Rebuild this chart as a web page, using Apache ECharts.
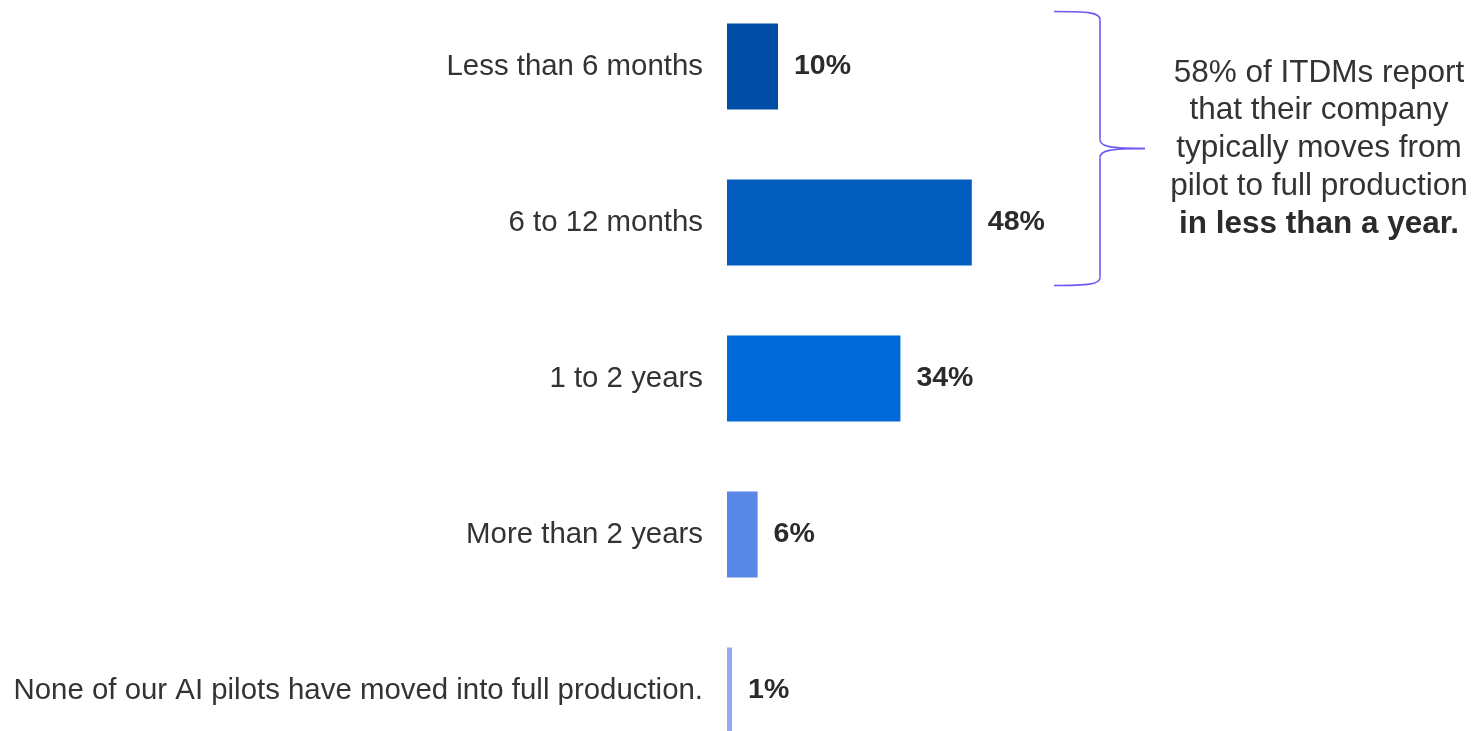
<!DOCTYPE html>
<html>
<head>
<meta charset="utf-8">
<title>Pilot to full production</title>
<script src="https://cdn.jsdelivr.net/npm/echarts@6/dist/echarts.min.js"></script>
<style>
  html, body { margin: 0; padding: 0; background: #ffffff; }
  #chart { width: 1476px; height: 731px; }
</style>
</head>
<body>
<div id="chart"></div>
<script>
// Time from AI pilot to full production (share of ITDMs)
const categories = [
  'Less than 6 months',
  '6 to 12 months',
  '1 to 2 years',
  'More than 2 years',
  'None of our AI pilots have moved into full production.'
];
const values = [10, 48, 34, 6, 1];
const barColors = ['#014EA7', '#025DBF', '#006AD8', '#5987E5', '#95ACEF'];
const calloutLines = [
  '58% of ITDMs report',
  'that their company',
  'typically moves from',
  'pilot to full production'
];
const calloutBold = 'in less than a year.';

const FONT = '"Liberation Sans", Arial, sans-serif';
const chart = echarts.init(document.getElementById('chart'), null, { renderer: 'canvas' });

chart.setOption({
  backgroundColor: '#ffffff',
  animation: false,
  grid: {
    left: 727, right: 239, top: -11.5, bottom: -37.5,
    containLabel: false,
    outerBoundsMode: 'none'
  },
  xAxis: {
    type: 'value', min: 0, max: 100, show: false
  },
  yAxis: {
    type: 'category',
    data: categories,
    inverse: true,
    axisLine: { show: false },
    axisTick: { show: false },
    splitLine: { show: false },
    axisLabel: {
      margin: 24,
      color: '#333333',
      fontFamily: FONT,
      fontSize: 29.4
    }
  },
  series: [{
    type: 'bar',
    barWidth: 86,
    data: values.map((v, i) => ({ value: v, itemStyle: { color: barColors[i] } })),
    label: {
      show: true,
      position: 'right',
      distance: 16,
      formatter: '{c}%',
      color: '#2b2b2b',
      fontFamily: FONT,
      fontWeight: 'bold',
      fontSize: 28.5
    }
  }]
});

// Brace spanning the first two categories, with a callout to its right
const yTop = chart.convertToPixel({ yAxisIndex: 0 }, categories[0]) - 55;
const yBot = chart.convertToPixel({ yAxisIndex: 0 }, categories[1]) + 63;
const yMid = (yTop + yBot) / 2;
const xL = 1054, xV = 1100, xTip = 1145;
const braceStyle = { fill: 'none', stroke: '#6C58F2', lineWidth: 1.6 };

const braceParts = [
  { type: 'bezierCurve', shape: { x1: xL, y1: yTop, cpx1: xL + 34, cpy1: yTop, cpx2: xV, cpy2: yTop + 1, x2: xV, y2: yTop + 8 } },
  { type: 'line', shape: { x1: xV, y1: yTop + 8, x2: xV, y2: yMid - 9 } },
  { type: 'bezierCurve', shape: { x1: xV, y1: yMid - 9, cpx1: xV, cpy1: yMid - 2, cpx2: xV + 10, cpy2: yMid, x2: xTip, y2: yMid } },
  { type: 'bezierCurve', shape: { x1: xTip, y1: yMid, cpx1: xV + 10, cpy1: yMid, cpx2: xV, cpy2: yMid + 2, x2: xV, y2: yMid + 9 } },
  { type: 'line', shape: { x1: xV, y1: yMid + 9, x2: xV, y2: yBot - 8 } },
  { type: 'bezierCurve', shape: { x1: xV, y1: yBot - 8, cpx1: xV, cpy1: yBot - 1, cpx2: xL + 34, cpy2: yBot, x2: xL, y2: yBot } }
].map(p => Object.assign(p, { style: braceStyle }));

const richText = calloutLines.map(l => '{n|' + l + '}').join('\n') + '\n{b|' + calloutBold + '}';

chart.setOption({
  graphic: [
    { type: 'group', children: braceParts },
    {
      type: 'text',
      x: 1319,
      y: yMid,
      style: {
        text: richText,
        align: 'center',
        verticalAlign: 'middle',
        rich: {
          n: { fontFamily: FONT, fontSize: 31.5, lineHeight: 37.75, fill: '#333333', align: 'center' },
          b: { fontFamily: FONT, fontSize: 31.5, lineHeight: 37.75, fontWeight: 'bold', fill: '#2b2b2b', align: 'center' }
        }
      }
    }
  ]
});
</script>
</body>
</html>
